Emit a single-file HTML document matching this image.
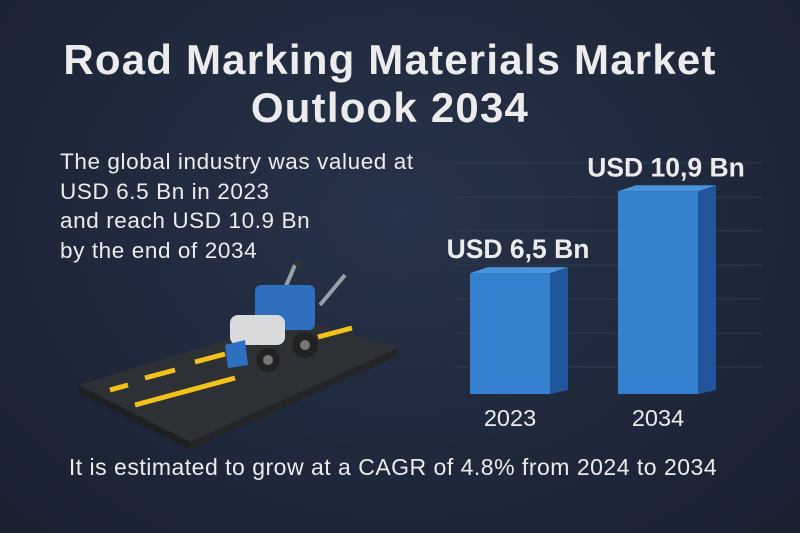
<!DOCTYPE html>
<html><head><meta charset="utf-8"><style>
body{margin:0;width:800px;height:533px;overflow:hidden;background:radial-gradient(ellipse at 50% 40%,#27334a 0%,#1d2638 70%,#192131 100%);font-family:"Liberation Sans",sans-serif;color:#e8e8e8;position:relative}
.t{position:absolute;left:0;width:780px;text-align:center;font-weight:bold;font-size:42px;letter-spacing:1.2px;color:#ececec}
.d{position:absolute;left:60px;font-size:22.5px;letter-spacing:0.6px;line-height:29.5px;top:147px;color:#ececec}
.b{position:absolute;left:0;width:786px;text-align:center;top:454px;font-size:23px;letter-spacing:0.5px;color:#ececec}
</style></head><body>
<div class="t" style="top:36px">Road Marking Materials Market</div>
<div class="t" style="top:84px">Outlook 2034</div>
<div class="d">The global industry was valued at<br>USD 6.5 Bn in 2023<br>and reach USD 10.9 Bn<br>by the end of 2034</div>
<div class="b">It is estimated to grow at a CAGR of 4.8% from 2024 to 2034</div>
<svg width="800" height="533" style="position:absolute;left:0;top:0">
<g>
<polygon points="78,385 300,318 398,348 190,442" fill="#2d3035"/>
<polygon points="78,385 190,442 190,450 78,393" fill="#1e2024"/>
<polygon points="190,442 398,348 398,356 190,450" fill="#232529"/>
<g stroke="#f2c21b" stroke-width="5">
<line x1="110" y1="390" x2="128" y2="385"/><line x1="145" y1="378" x2="175" y2="370"/><line x1="195" y1="362" x2="225" y2="354"/>
<line x1="135" y1="405" x2="235" y2="378"/><line x1="318" y1="337" x2="352" y2="328"/>
</g></g>
<g>
<line x1="280" y1="300" x2="295" y2="265" stroke="#9aa0a8" stroke-width="4"/>
<line x1="320" y1="305" x2="345" y2="275" stroke="#9aa0a8" stroke-width="4"/>
<line x1="295" y1="265" x2="300" y2="262" stroke="#333" stroke-width="6"/>
<rect x="255" y="285" width="60" height="45" rx="6" fill="#2f6fc0"/>
<rect x="230" y="315" width="55" height="30" rx="8" fill="#d8dadc"/>
<polygon points="225,345 245,340 248,365 228,368" fill="#2f6fc0"/>
<circle cx="268" cy="360" r="12" fill="#222"/><circle cx="305" cy="345" r="13" fill="#222"/>
<circle cx="268" cy="360" r="5" fill="#777"/><circle cx="305" cy="345" r="5" fill="#777"/>
</g>
<g id="chart"></g>
</svg>
<script>
const categories=["2023","2034"];
const values=[6.5,10.9];
const valueLabels=["USD 6,5 Bn","USD 10,9 Bn"];
const ns="http://www.w3.org/2000/svg";
const g=document.getElementById('chart');
const base=394,scale=18.6,x0=470,step=148,bw=80,sd=18;
function y(v){return base-v*scale;}
function mk(t,a){const e=document.createElementNS(ns,t);for(const k in a)e.setAttribute(k,a[k]);g.appendChild(e);return e;}
for(let i=0;i<7;i++){const l=mk('line',{x1:455,x2:763,y1:163+i*34,y2:163+i*34,stroke:'#2f3a52','stroke-width':1});

}
categories.forEach((c,i)=>{
const x=x0+i*step,top=y(values[i]);
const side=mk('polygon',{points:`${x+bw},${top} ${x+bw+sd},${top-6} ${x+bw+sd},${base-4} ${x+bw},${base}`,fill:'#21569c'});


const tp=mk('polygon',{points:`${x},${top} ${x+sd},${top-6} ${x+bw+sd},${top-6} ${x+bw},${top}`,fill:'#4a94dc'});


const r=mk('rect',{x:x,y:top,width:bw,height:base-top,fill:'#3580cf'});


const lb=mk('text',{x:x+bw/2+8,y:top-15,'text-anchor':'middle','font-size':26.5,'font-weight':'bold',fill:'#ececec'});
lb.textContent=valueLabels[i];


const cl=mk('text',{x:x+bw/2,y:426,'text-anchor':'middle','font-size':23.5,fill:'#ececec'});
cl.textContent=c;


});
</script>
</body></html>
